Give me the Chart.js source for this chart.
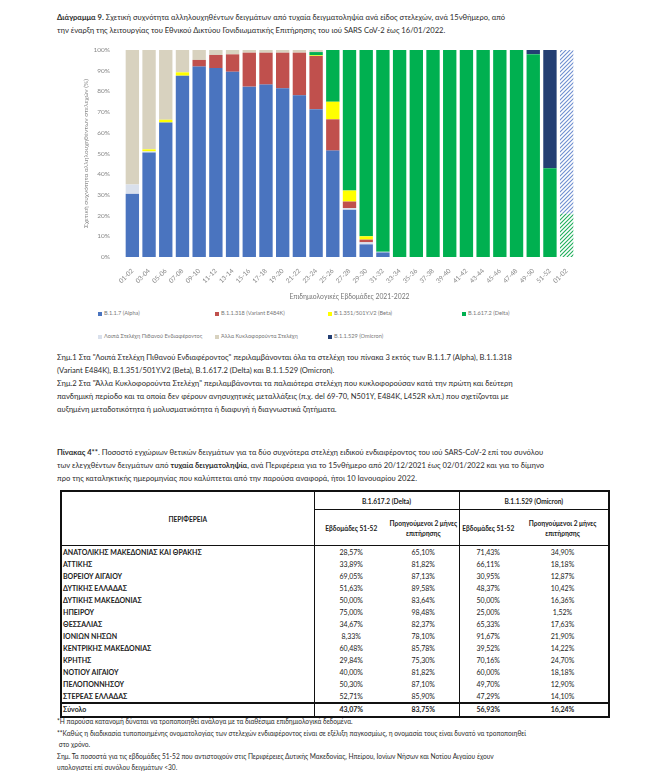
<!DOCTYPE html>
<html lang="el">
<head>
<meta charset="utf-8">
<script src="https://cdn.jsdelivr.net/npm/chart.js@4.4.0/dist/chart.umd.min.js"></script>
<style>
  body { margin: 0; background: #fff; font-family: Lato, 'Noto Sans', sans-serif; color: #2b2b2b; }
  #page { position: relative; width: 650px; height: 782px; overflow: hidden; }
  .txt { position: absolute; left: 57px; font-size: 7.6px; line-height: 13px; white-space: nowrap; }
  #chartBox { position: absolute; left: 70px; top: 38px; width: 520px; height: 270px; }
  #legend { position: absolute; left: 98px; top: 309px; display: grid;
            grid-template-columns: 117px 113px 134px 120px; row-gap: 16px;
            font-size: 5.6px; color: #777; }
  #legend span.m { display: inline-block; width: 4px; height: 4px; margin-right: 2px; vertical-align: -0.5px; }
  #tbl { position: absolute; left: 60px; top: 490px; width: 548px; border-collapse: collapse;
         border: 2.5px solid #111; font-size: 7px; color: #222; table-layout: fixed; }
  #tbl td, #tbl th { padding: 0; text-align: center; font-weight: normal; }
  #tbl th { font-weight: bold; font-size: 6.6px; white-space: nowrap; }
  #tbl .h1 th { height: 17px; border-bottom: 1px solid #111; }
  #tbl .h2 th { height: 35px; border-bottom: 1.5px solid #111; line-height: 10px; }
  #tbl td.reg { text-align: left; font-weight: bold; padding-left: 1px; }
  #tbl tbody td { height: 12px; line-height: 12px; }
  #tbl .c1 { border-right: 1.5px solid #111; }
  #tbl .gd { border-left: 1.5px solid #111; }
  #tbl tr.tot td { border-top: 2.5px solid #111; font-weight: bold; height: 11.5px; line-height: 11px; }
</style>
</head>
<body>
<div id="page">
  <div class="txt" style="top:11px;"><b>Διάγραμμα 9.</b> Σχετική συχνότητα αλληλουχηθέντων δειγμάτων από τυχαία δειγματοληψία ανά είδος στελεχών, ανά 15νθήμερο, από<br>την έναρξη της λειτουργίας του Εθνικού Δικτύου Γονιδιωματικής Επιτήρησης του ιού SARS CoV-2 έως 16/01/2022.</div>

  <div id="chartBox"><canvas id="c" width="520" height="270"></canvas></div>
  <div id="legend"></div>

  <div class="txt" style="top:351px;">Σημ.1 Στα "Λοιπά Στελέχη Πιθανού Ενδιαφέροντος" περιλαμβάνονται όλα τα στελέχη του πίνακα 3 εκτός των B.1.1.7 (Alpha), B.1.1.318<br>(Variant E484K), B.1.351/501Y.V2 (Beta), B.1.617.2 (Delta) και B.1.1.529 (Omicron).<br>Σημ.2 Στα "Άλλα Κυκλοφορούντα Στελέχη" περιλαμβάνονται τα παλαιότερα στελέχη που κυκλοφορούσαν κατά την πρώτη και δεύτερη<br>πανδημική περίοδο και τα οποία δεν φέρουν ανησυχητικές μεταλλάξεις (π.χ. del 69-70, N501Y, E484K, L452R κλπ.) που σχετίζονται με<br>αυξημένη μεταδοτικότητα ή μολυσματικότητα ή διαφυγή ή διαγνωστικά ζητήματα.</div>

  <div class="txt" style="top:446px;"><b>Πίνακας 4**</b>. Ποσοστό εγχώριων θετικών δειγμάτων για τα δύο συχνότερα στελέχη ειδικού ενδιαφέροντος του ιού SARS-CoV-2 επί του συνόλου<br>των ελεγχθέντων δειγμάτων από <b>τυχαία δειγματοληψία</b>, ανά Περιφέρεια για το 15νθήμερο από 20/12/2021 έως 02/01/2022 και για το δίμηνο<br>προ της καταληκτικής ημερομηνίας που καλύπτεται από την παρούσα αναφορά, ήτοι 10 Ιανουαρίου 2022.</div>

  <table id="tbl">
    <colgroup><col style="width:253px"><col style="width:74px"><col style="width:71px"><col style="width:58px"><col style="width:92px"></colgroup>
    <thead>
      <tr class="h1"><th rowspan="2" class="c1" style="border-bottom:1.5px solid #111;">ΠΕΡΙΦΕΡΕΙΑ</th><th colspan="2">B.1.617.2 (Delta)</th><th colspan="2" class="gd">B.1.1.529 (Omicron)</th></tr>
      <tr class="h2"><th>Εβδομάδες 51-52</th><th>Προηγούμενοι 2 μήνες<br>επιτήρησης</th><th class="gd">Εβδομάδες 51-52</th><th>Προηγούμενοι 2 μήνες<br>επιτήρησης</th></tr>
    </thead>
    <tbody id="tb"></tbody>
  </table>

  <div class="txt" style="top:716px; font-size:6.6px; line-height:11.5px;">*Η παρούσα κατανομή δύναται να τροποποιηθεί ανάλογα με τα διαθέσιμα επιδημιολογικά δεδομένα.<br>**Καθώς η διαδικασία τυποποιημένης ονοματολογίας των στελεχών ενδιαφέροντος είναι σε εξέλιξη παγκοσμίως, η ονομασία τους είναι δυνατό να τροποποιηθεί<br>&nbsp;στο χρόνο.<br>Σημ. Τα ποσοστά για τις εβδομάδες 51-52 που αντιστοιχούν στις Περιφέρειες Δυτικής Μακεδονίας, Ηπείρου, Ιονίων Νήσων και Νοτίου Αιγαίου έχουν<br>υπολογιστεί επί συνόλου δειγμάτων &lt;30.</div>
</div>

<script>
const weeks = ['01-02', '03-04', '05-06', '07-08', '09-10', '11-12', '13-14', '15-16', '17-18', '19-20',
               '21-22', '23-24', '25-26', '27-28', '29-30', '31-32', '33-34', '35-36', '37-38', '39-40',
               '41-42', '43-44', '45-46', '47-48', '49-50', '51-52', '01-02'];

const alpha   = [30.5, 50.5, 65, 87.6, 92, 91.3, 89.5, 82.3, 83.3, 81.5, 78.1, 71.4, 51.4, 22.8, 6.1, 2.2, 0, 0, 0, 0, 0, 0, 0, 0, 0, 0, 0];
const loipa   = [4.5, 0.5, 0, 0, 0, 0, 0, 0, 0, 0, 0, 0, 0, 0.8, 1, 0.3, 0, 0, 0, 0, 0, 0, 0, 0, 0, 0, 0];
const e484k   = [0, 0, 0, 0, 3.2, 6.3, 8.4, 16.4, 15.4, 17.2, 20.6, 25.7, 15.1, 3.2, 1.3, 0, 0, 0, 0, 0, 0, 0, 0, 0, 0, 0, 0];
const beta    = [0, 1, 1.3, 1.6, 0, 0, 0, 0, 0, 0, 0, 0.3, 8.5, 5.3, 1.6, 0, 0, 0, 0, 0, 0, 0, 0, 0, 0, 0, 0];
const delta   = [0, 0, 0, 0, 0, 0, 0, 0, 0, 0, 0, 1.6, 25, 67.9, 90, 97.5, 100, 100, 100, 100, 100, 100, 100, 100, 98, 42.9, 20.9];
const alla    = [65, 48, 33.7, 10.8, 4.8, 2.4, 2.1, 1.3, 1.3, 1.3, 1.3, 1, 0, 0, 0, 0, 0, 0, 0, 0, 0, 0, 0, 0, 0, 0, 0];
const omicron = [0, 0, 0, 0, 0, 0, 0, 0, 0, 0, 0, 0, 0, 0, 0, 0, 0, 0, 0, 0, 0, 0, 0, 0, 2, 57.1, 79.1];

const yTicks = [0, 10, 20, 30, 40, 50, 60, 70, 80, 90, 100];

const regions = ['ΑΝΑΤΟΛΙΚΗΣ ΜΑΚΕΔΟΝΙΑΣ ΚΑΙ ΘΡΑΚΗΣ', 'ΑΤΤΙΚΗΣ', 'ΒΟΡΕΙΟΥ ΑΙΓΑΙΟΥ', 'ΔΥΤΙΚΗΣ ΕΛΛΑΔΑΣ',
                 'ΔΥΤΙΚΗΣ ΜΑΚΕΔΟΝΙΑΣ', 'ΗΠΕΙΡΟΥ', 'ΘΕΣΣΑΛΙΑΣ', 'ΙΟΝΙΩΝ ΝΗΣΩΝ', 'ΚΕΝΤΡΙΚΗΣ ΜΑΚΕΔΟΝΙΑΣ',
                 'ΚΡΗΤΗΣ', 'ΝΟΤΙΟΥ ΑΙΓΑΙΟΥ', 'ΠΕΛΟΠΟΝΝΗΣΟΥ', 'ΣΤΕΡΕΑΣ ΕΛΛΑΔΑΣ', 'Σύνολο'];
const deltaWeeks   = ['28,57%', '33,89%', '69,05%', '51,63%', '50,00%', '75,00%', '34,67%', '8,33%', '60,48%', '29,84%', '40,00%', '50,30%', '52,71%', '43,07%'];
const deltaMonths  = ['65,10%', '81,82%', '87,13%', '89,58%', '83,64%', '98,48%', '82,37%', '78,10%', '85,78%', '75,30%', '81,82%', '87,10%', '85,90%', '83,75%'];
const omiWeeks     = ['71,43%', '66,11%', '30,95%', '48,37%', '50,00%', '25,00%', '65,33%', '91,67%', '39,52%', '70,16%', '60,00%', '49,70%', '47,29%', '56,93%'];
const omiMonths    = ['34,90%', '18,18%', '12,87%', '10,42%', '16,36%', '1,52%', '17,63%', '21,90%', '14,22%', '24,70%', '18,18%', '12,90%', '14,10%', '16,24%'];

// table
const tb = document.getElementById('tb');
regions.forEach((r, i) => {
    const tr = document.createElement('tr');
    if (i === regions.length - 1) tr.className = 'tot';
    tr.innerHTML = `<td class="reg c1">${r}</td><td>${deltaWeeks[i]}</td><td>${deltaMonths[i]}</td>` +
                   `<td class="gd">${omiWeeks[i]}</td><td>${omiMonths[i]}</td>`;
    tb.appendChild(tr);
});

// hatched fill for the last (provisional) bar
function hatch(color) {
    const c = document.createElement('canvas');
    c.width = 4; c.height = 4;
    const g = c.getContext('2d');
    g.fillStyle = '#fff';
    g.fillRect(0, 0, 4, 4);
    g.strokeStyle = color;
    g.lineWidth = 1.1;
    g.beginPath();
    g.moveTo(-1, 5); g.lineTo(5, -1);
    g.moveTo(-1, 1); g.lineTo(1, -1);
    g.moveTo(3, 5); g.lineTo(5, 3);
    g.stroke();
    return g.createPattern(c, 'repeat');
}

function fills(color, hatchColor) {
    return weeks.map((w, i) => i === weeks.length - 1 ? hatch(hatchColor) : color);
}

const series = [
    { key: 'alpha',   label: 'B.1.1.7 (Alpha)',                      data: alpha,   color: '#4a74bf' },
    { key: 'loipa',   label: 'Λοιπά Στελέχη Πιθανού Ενδιαφέροντος',   data: loipa,   color: '#d9e0ec' },
    { key: 'e484k',   label: 'B.1.1.318 (Variant E484K)',            data: e484k,   color: '#c0504d' },
    { key: 'beta',    label: 'B.1.351/501Y.V2 (Beta)',               data: beta,    color: '#ffff00' },
    { key: 'delta',   label: 'B.1.617.2 (Delta)',                    data: delta,   color: '#00b050', hatch: '#1fae5a' },
    { key: 'alla',    label: 'Άλλα Κυκλοφορούντα Στελέχη',            data: alla,    color: '#d8d2bf' },
    { key: 'omicron', label: 'B.1.1.529 (Omicron)',                  data: omicron, color: '#243f73', hatch: '#6f8fcf' }
];
const legendOrder = ['alpha', 'e484k', 'beta', 'delta', 'loipa', 'alla', 'omicron'];

const legend = document.getElementById('legend');
legendOrder.forEach(k => {
    const s = series.find(x => x.key === k);
    const d = document.createElement('div');
    d.innerHTML = `<span class="m" style="background:${s.color}"></span>${s.label}`;
    legend.appendChild(d);
});

Chart.defaults.font.family = "Lato, 'Noto Sans', sans-serif";

new Chart(document.getElementById('c').getContext('2d'), {
    type: 'bar',
    data: {
        labels: weeks,
        datasets: series.map(s => ({
            label: s.label,
            data: s.data,
            backgroundColor: s.hatch ? fills(s.color, s.hatch) : s.color,
            borderWidth: 0,
            barPercentage: 0.8,
            categoryPercentage: 1
        }))
    },
    options: {
        responsive: false,
        animation: false,
        layout: { padding: { top: 12, right: 15, left: 0, bottom: 0 } },
        plugins: { legend: { display: false }, tooltip: { enabled: false } },
        scales: {
            x: {
                stacked: true,
                grid: { display: false },
                border: { display: false },
                ticks: { autoSkip: false, minRotation: 45, maxRotation: 45, color: '#888', font: { size: 6.5 }, padding: 2 },
                title: { display: true, text: 'Επιδημιολογικές Εβδομάδες 2021-2022', color: '#777', font: { size: 6.8 }, padding: { top: 0, bottom: 7 } },
                afterFit: s => { s.height = 51; }
            },
            y: {
                stacked: true,
                min: 0, max: 100,
                grid: { display: false },
                border: { display: false },
                afterBuildTicks: s => { s.ticks = yTicks.map(v => ({ value: v })); },
                ticks: { callback: v => v + '%', color: '#888', font: { size: 6.5 }, padding: 6 },
                title: { display: true, text: 'Σχετική συχνότητα αλληλουχηθέντων στελεχών (%)', color: '#888', font: { size: 6.5 }, padding: { top: 12, bottom: 0 } },
                afterFit: s => { s.width = 54; }
            }
        }
    }
});
</script>
</body>
</html>
